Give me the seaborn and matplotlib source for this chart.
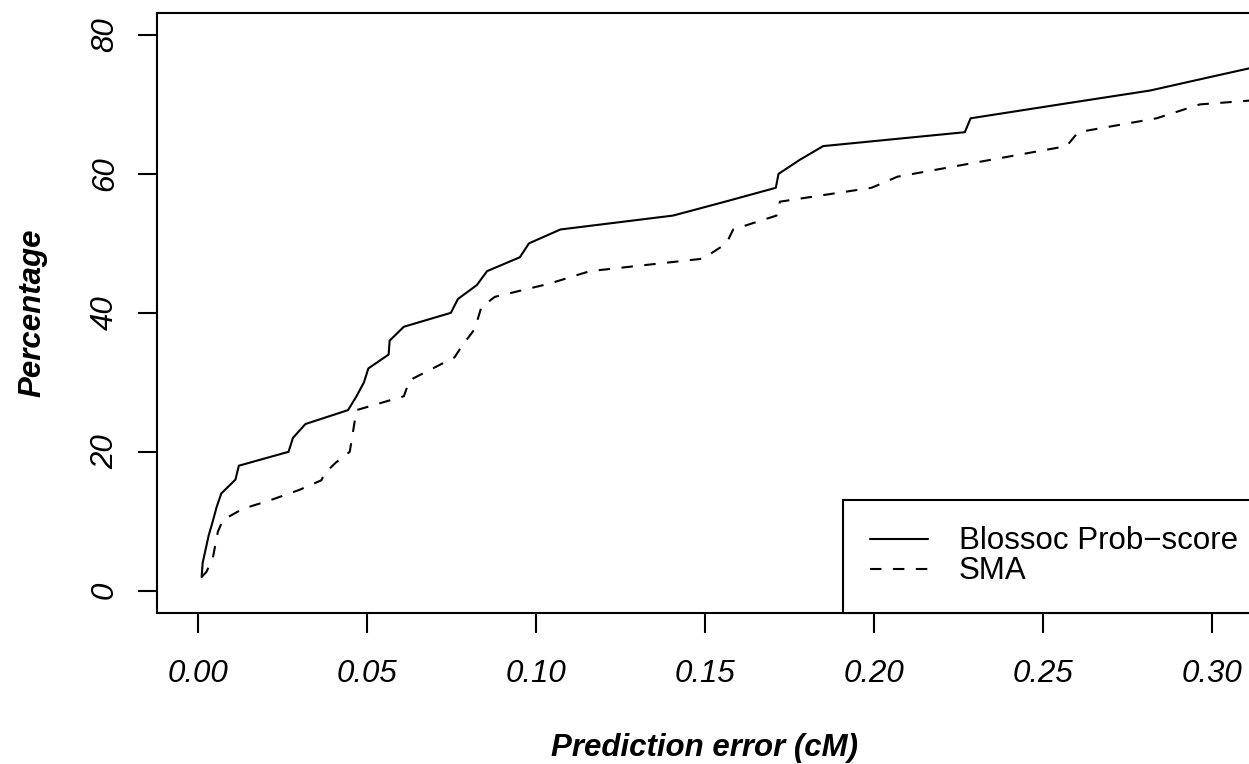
import matplotlib
matplotlib.use("Agg")
import matplotlib.pyplot as plt
import seaborn as sns
import pandas as pd
from matplotlib.lines import Line2D

# ---- data ----
blossoc_err = [0.0012, 0.0015, 0.0024, 0.0033, 0.0045, 0.0056, 0.0070, 0.0112, 0.0122,
               0.0269, 0.0282, 0.0319, 0.0445, 0.0470, 0.0492, 0.0505, 0.0565, 0.0568,
               0.0610, 0.0749, 0.0770, 0.0826, 0.0856, 0.0953, 0.0980, 0.1073, 0.1406,
               0.1560, 0.1710, 0.1718, 0.1780, 0.1850, 0.2269, 0.2286, 0.2550, 0.2817,
               0.3000, 0.3185]
blossoc_pct = [2, 4, 6, 8, 10, 12, 14, 16, 18,
               20, 22, 24, 26, 28, 30, 32, 34, 36,
               38, 40, 42, 44, 46, 48, 50, 52, 54,
               56, 58, 60, 62, 64, 66, 68, 70, 72,
               74, 76]

sma_err = [0.0012, 0.0026, 0.0045, 0.0060, 0.0075, 0.0134, 0.0213, 0.0300, 0.0366,
           0.0376, 0.0410, 0.0450, 0.0470, 0.0610, 0.0627, 0.0760, 0.0780, 0.0820,
           0.0839, 0.0879, 0.1040, 0.1160, 0.1495, 0.1564, 0.1584, 0.1712, 0.1722,
           0.1993, 0.2070, 0.2570, 0.2604, 0.2836, 0.2964, 0.3500]
sma_pct = [2, 2.7, 4.7, 8.5, 10.2, 11.8, 13, 14.5, 15.9,
           16.9, 18.5, 20, 26, 28, 30.3, 33.6, 35.1, 37.7,
           40.8, 42.3, 44.2, 46, 47.8, 50, 52, 54, 56,
           58, 59.6, 64, 66, 68, 70, 72]

series_names = ["Blossoc Prob\u2212score", "SMA"]
x_ticks = [0.00, 0.05, 0.10, 0.15, 0.20, 0.25, 0.30]
x_tick_labels = ["0.00", "0.05", "0.10", "0.15", "0.20", "0.25", "0.30"]
y_ticks = [0, 20, 40, 60, 80]
y_tick_labels = ["0", "20", "40", "60", "80"]

df = pd.concat([
    pd.DataFrame({"err": blossoc_err, "pct": blossoc_pct, "method": series_names[0]}),
    pd.DataFrame({"err": sma_err, "pct": sma_pct, "method": series_names[1]}),
], ignore_index=True)

sns.set_style("ticks")
plt.rcParams["font.family"] = ["Liberation Sans", "DejaVu Sans"]
plt.rcParams["text.color"] = "black"
plt.rcParams["axes.labelcolor"] = "black"
plt.rcParams["xtick.color"] = "black"
plt.rcParams["ytick.color"] = "black"
plt.rcParams["axes.edgecolor"] = "black"

W, H = 1249, 764
fig = plt.figure(figsize=(W / 100, H / 100), dpi=100)
ax_l, ax_r, ax_t, ax_b = 157, 1252.6, 12.7, 613
ax_w, ax_h = ax_r - ax_l, ax_b - ax_t
ax = fig.add_axes([ax_l / W, (H - ax_b) / H, ax_w / W, ax_h / H])

FS = 22.5
LW = 1.5
dash = (5.5, 5.5)

sns.lineplot(data=df, x="err", y="pct", style="method",
             dashes={series_names[0]: "", series_names[1]: dash},
             color="black", linewidth=LW, estimator=None, sort=False,
             legend=False, ax=ax)

ax.set_xlim(-0.012, 0.312)
ax.set_ylim(-3.2, 83.2)

for s in ax.spines.values():
    s.set_visible(True)
    s.set_color("black")
    s.set_linewidth(1.5)

ax.set_xticks(x_ticks)
ax.set_xticklabels(x_tick_labels, fontsize=FS, style="italic", color="black")
ax.set_yticks(y_ticks)
ax.set_yticklabels(y_tick_labels, fontsize=FS, style="italic", rotation=90, va="center",
                   color="black")
ax.tick_params(axis="x", length=14.4, width=1.5, pad=19, direction="out", color="black")
ax.tick_params(axis="y", length=13.7, width=1.5, pad=13, direction="out", color="black")
ax.tick_params(top=False, right=False)

ax.set_xlabel("Prediction error (cM)", fontsize=FS, fontweight="bold", style="italic",
              color="black")
ax.set_ylabel("Percentage", fontsize=FS, fontweight="bold", style="italic", color="black")
ax.xaxis.set_label_coords(0.5, -0.2)
ax.yaxis.set_label_coords(-0.1004, 0.5)

handles = [Line2D([], [], color="black", lw=LW),
           Line2D([], [], color="black", lw=LW, dashes=dash)]
bp = 0.85
anchor_x = 1.0 + (1238 + bp * FS * 100 / 72 - ax_r) / ax_w
leg = ax.legend(handles, series_names, loc="lower right", bbox_to_anchor=(anchor_x, 0),
                borderaxespad=0, fontsize=FS, handlelength=1.85, handletextpad=1.0,
                borderpad=bp, labelspacing=0.0, fancybox=False, framealpha=1,
                edgecolor="black")
leg.get_frame().set_linewidth(1.5)
for t in leg.get_texts():
    t.set_color("black")

fig.savefig("out.png", dpi=100)
